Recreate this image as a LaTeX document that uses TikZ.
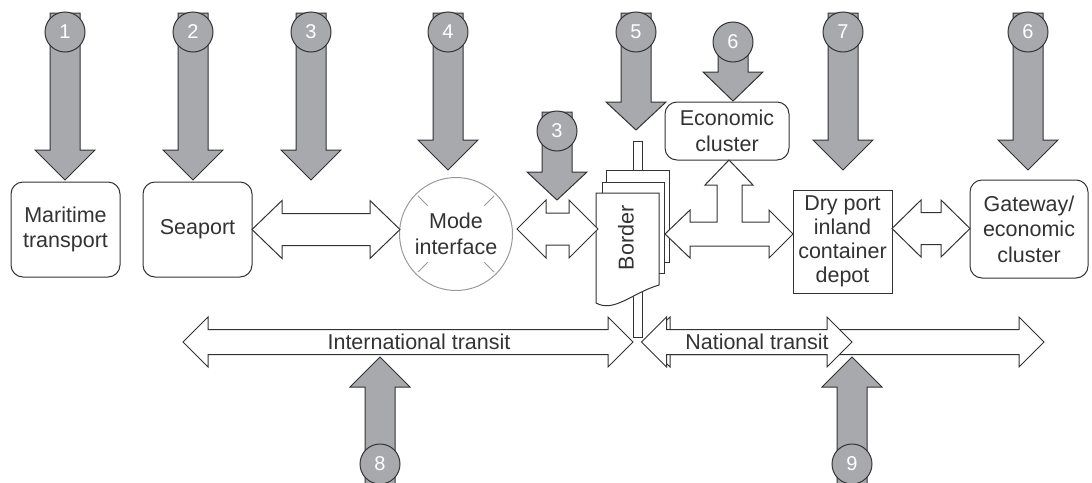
\documentclass[tikz,border=0pt]{standalone}
\usepackage{fontspec}
\setmainfont{Liberation Sans}
\usetikzlibrary{calc}
\definecolor{arrowgray}{HTML}{A7A9AC}
\definecolor{ink}{HTML}{333333}
\definecolor{ringgray}{HTML}{9A9A9A}
\tikzset{
  lbl/.style={font=\fontsize{21.5}{25.5}\selectfont, text=ink, align=center},
  rbox/.style={lbl, draw=ink, line width=1pt, rounded corners=12pt, fill=white, inner sep=0pt},
  sbox/.style={lbl, draw=ink, line width=1pt, fill=white, inner sep=0pt},
  grayarrow/.style={draw=ink, line width=1pt, fill=arrowgray, line join=miter},
  whitearrow/.style={draw=ink, line width=1pt, fill=white, line join=miter},
  numcirc/.style={circle, draw=ink, line width=1pt, fill=arrowgray, minimum size=40pt, inner sep=0pt, text=white, font=\fontsize{20}{20}\selectfont},
  pagebox/.style={draw=ink, line width=1pt, fill=white},
}
% gray down/up block arrow: #1 x, #2 shaft end y, #3 head base y, #4 tip y
\newcommand{\gblock}[4]{%
  \draw[grayarrow] (#1-15,#2) -- (#1+15,#2) -- (#1+15,#3) -- (#1+30,#3) -- (#1,#4) -- (#1-30,#3) -- (#1-15,#3) -- cycle;}
% white double block arrow between two named coordinates
\newcommand{\hdbl}[5]{%
  \draw[whitearrow] let \p1=(#1), \p2=(#2) in
    (\x1,\y1) -- (\x1+#5pt,\y1+#4pt) -- (\x1+#5pt,\y1+#3pt) -- (\x2-#5pt,\y1+#3pt) -- (\x2-#5pt,\y1+#4pt)
    -- (\x2,\y1) -- (\x2-#5pt,\y1-#4pt) -- (\x2-#5pt,\y1-#3pt) -- (\x1+#5pt,\y1-#3pt) -- (\x1+#5pt,\y1-#4pt) -- cycle;}
\begin{document}
\begin{tikzpicture}[x=1pt,y=-1pt]
\useasboundingbox (0,0) rectangle (1092,482);
\clip (0,0) rectangle (1092,482);

% ---- main nodes
\node[rbox, minimum width=109pt, minimum height=95pt] (maritime) at (65.5,229.5) {Maritime\\transport};
\node[rbox, minimum width=109pt, minimum height=95pt] (seaport) at (197.5,229.5) {Seaport};
\node[lbl, circle, draw=ringgray, line width=1pt, minimum size=113pt, inner sep=0pt] (mode) at (456,234) {Mode\\interface};
\foreach \a in {45,135,225,315}
  \draw[ringgray, line width=1pt] ($(mode.center)+(\a:40pt)$) -- ($(mode.center)+(\a:54pt)$);
\node[rbox, minimum width=124pt, minimum height=58pt] (econ) at (727,131) {Economic\\cluster};
\node[sbox, minimum width=99pt, minimum height=103pt, font=\fontsize{21.5}{24}\selectfont] (dry) at (842.5,241.5) {Dry port\\inland\\container\\depot};
\node[rbox, minimum width=118pt, minimum height=98pt] (gateway) at (1029,229) {Gateway/\\economic\\cluster};

% ---- border: pole and stacked pages
\draw[pagebox] (633,141) rectangle (642,337);
\draw[pagebox] (606,170) rectangle (669,262);
\draw[pagebox] (602,182) rectangle (664,273);
\draw[pagebox] (596,193) -- (659,193) -- (659,285) .. controls (632,293) and (614,313) .. (596,303) -- cycle;
\node[lbl, rotate=90] (border) at (626,238) {Border};

% ---- white double arrows
\coordinate (sm1) at (252,229.5);
\coordinate (sm2) at (400,229.5);
\hdbl{sm1}{sm2}{16}{29}{30}
\coordinate (mb1) at (517,229);
\coordinate (mb2) at (598,229);
\hdbl{mb1}{mb2}{16}{29}{29}
\coordinate (dg1) at (892,228.5);
\coordinate (dg2) at (970,228.5);
\hdbl{dg1}{dg2}{16}{28.5}{29}
% T-shaped arrow border / economic cluster / dry port
\draw[whitearrow] (665,234) -- (690,210) -- (690,222) -- (717,222) -- (717,185) -- (705,185) -- (729,160)
  -- (753,185) -- (742,185) -- (742,222) -- (769,222) -- (769,210) -- (793,234) -- (769,258) -- (769,246)
  -- (690,246) -- (690,258) -- cycle;
% transit arrows
\coordinate (it1) at (183,342);
\coordinate (it2) at (633,342);
\hdbl{it1}{it2}{12.5}{25}{25}
\coordinate (nt1) at (645,342);
\coordinate (nt2) at (1044,342);
\hdbl{nt1}{nt2}{12.5}{25}{25}
\coordinate (ns1) at (641.5,342);
\coordinate (ns2) at (852,342);
\hdbl{ns1}{ns2}{12.5}{25}{25}
\node[lbl] (intl) at (419,342) {International transit};
\node[lbl] (natl) at (757,342) {National transit};

% ---- gray arrows with numbered circles
\gblock{65}{13}{150}{180}   \node[numcirc] (n1) at (65,32) {1};
\gblock{193}{13}{150}{180}  \node[numcirc] (n2) at (193,32) {2};
\gblock{311}{13}{150}{180}  \node[numcirc] (n3a) at (311,32) {3};
\gblock{448}{13}{140}{170}  \node[numcirc] (n4) at (448,32) {4};
\gblock{636}{13}{102}{130}  \node[numcirc] (n5) at (636,32) {5};
\gblock{557}{112}{172}{200} \node[numcirc] (n3b) at (557,131) {3};
\gblock{733}{42}{72}{101}   \node[numcirc] (n6a) at (733,42) {6};
\gblock{843}{13}{140}{170}  \node[numcirc] (n7) at (843,32) {7};
\gblock{1028}{13}{140}{170} \node[numcirc] (n6b) at (1028,32) {6};
\gblock{380}{500}{387}{357} \node[numcirc] (n8) at (380,464) {8};
\gblock{852}{500}{387}{357} \node[numcirc] (n9) at (852,464) {9};
\end{tikzpicture}
\end{document}
